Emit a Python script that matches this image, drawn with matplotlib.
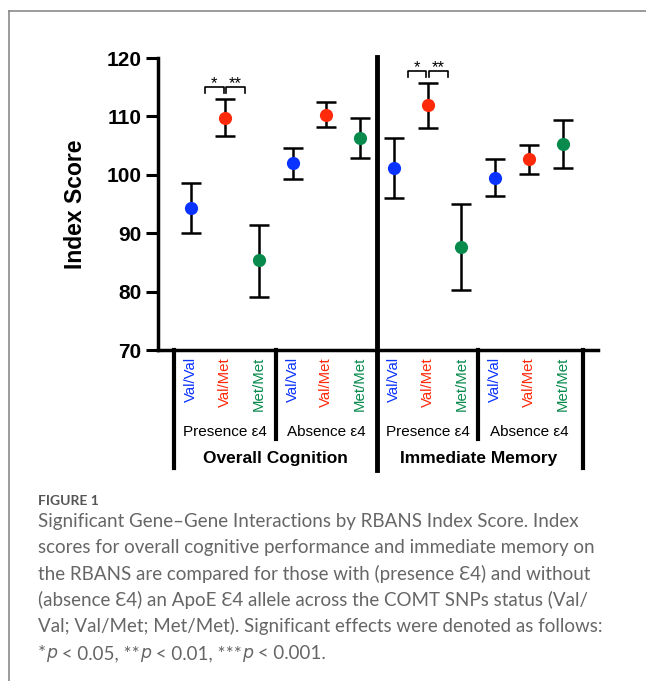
import matplotlib
matplotlib.use('Agg')
import matplotlib.pyplot as plt
from matplotlib.lines import Line2D
from matplotlib import transforms

# Datos (media y extremos de la barra de error)
genotipos = ['Val/Val', 'Val/Met', 'Met/Met']
colores = ['#0a33ff', '#ff2a0a', '#078a4c']
grupos = ['Presence ε4', 'Absence ε4', 'Presence ε4', 'Absence ε4']
dominios = ['Overall Cognition', 'Immediate Memory']

medias = [94.3, 109.7, 85.4, 102.0, 110.2, 106.3, 101.2, 112.0, 87.6, 99.5, 102.7, 105.3]
superior = [98.6, 113.0, 91.4, 104.6, 112.5, 109.7, 106.3, 115.7, 95.0, 102.7, 105.1, 109.4]
inferior = [90.0, 106.6, 79.1, 99.3, 108.2, 102.9, 96.0, 108.0, 80.3, 96.4, 100.1, 101.2]

# Comparaciones significativas (índice del punto Val/Met; izquierda y derecha)
puntos_sig = [1, 7]
etiquetas_sig = ['*', '**']

lineas_pie = [
    'Significant Gene\u2013Gene Interactions by RBANS Index Score. Index',
    'scores for overall cognitive performance and immediate memory on',
    'the RBANS are compared for those with (presence \u01904) and without',
    '(absence \u01904) an ApoE \u01904 allele across the COMT SNPs status (Val/',
    'Val; Val/Met; Met/Met). Significant effects were denoted as follows:',
]
ultima_linea = [('*', 'normal'), ('p', 'italic'), (' < 0.05, **', 'normal'), ('p', 'italic'),
                (' < 0.01, ***', 'normal'), ('p', 'italic'), (' < 0.001.', 'normal')]

fuente = ['Liberation Sans', 'DejaVu Sans']
plt.rcParams['font.family'] = fuente

fig = plt.figure(figsize=(6.46, 6.81), dpi=100)
W, H = 646, 681
ax = fig.add_axes([158 / W, 1 - 350 / H, 440 / W, 292 / H])

x = list(range(len(medias)))
for i in x:
    c = colores[i % 3]
    ax.errorbar(i, medias[i], yerr=[[medias[i] - inferior[i]], [superior[i] - medias[i]]],
                fmt='none', ecolor='black', elinewidth=1.8, capsize=7, capthick=1.8, zorder=2)
    ax.plot(i, medias[i], 'o', color=c, markersize=9.5, markeredgewidth=0, zorder=3)

ax.set_xlim(-0.98, 12.04)
ax.set_ylim(70, 120)
ax.set_yticks([70, 80, 90, 100, 110, 120])
ax.set_xticks([])
for s in ['top', 'right']:
    ax.spines[s].set_visible(False)
for s in ['left', 'bottom']:
    ax.spines[s].set_linewidth(2.5)
ax.tick_params(axis='y', length=9, width=2.2, pad=3, labelsize=15)
for t in ax.get_yticklabels():
    t.set_fontweight('bold')

fig.text(75 / W, 1 - 204 / H, 'Index Score', rotation=90, ha='center', va='center',
         fontsize=16.5, fontweight='bold')

# Corchetes de significancia
for p in puntos_sig:
    y = superior[p] + 2.0
    ax.plot([p - 0.58, p - 0.58, p - 0.04, p - 0.04], [y - 1, y, y, y - 1], color='black', lw=1.2, zorder=2)
    ax.plot([p + 0.04, p + 0.04, p + 0.6, p + 0.6], [y - 1, y, y, y - 1], color='black', lw=1.2, zorder=2)
    ax.text(p - 0.31, y - 0.2, etiquetas_sig[0], ha='center', va='baseline', fontsize=12)
    ax.text(p + 0.32, y - 0.2, etiquetas_sig[1], ha='center', va='baseline', fontsize=12)

# Etiquetas y divisiones bajo el eje
tr = transforms.blended_transform_factory(ax.transData, ax.transAxes)
for i in x:
    ax.text(i, -0.024, genotipos[i % 3], rotation=90, ha='center', va='top',
            color=colores[i % 3], fontsize=10.8, transform=tr, clip_on=False)
for k, g in enumerate(grupos):
    ax.text(1 + 3 * k, -0.281, g, ha='center', va='center', fontsize=11, transform=tr)
for k, d in enumerate(dominios):
    ax.text(2.5 + 6 * k, -0.37, d, ha='center', va='center', fontsize=12.5,
            fontweight='bold', transform=tr)

for xv in [-0.5, 11.6]:
    ax.plot([xv, xv], [0, -0.404], color='black', lw=3, transform=tr, clip_on=False)
for xv in [2.5, 8.5]:
    ax.plot([xv, xv], [0, -0.305], color='black', lw=3, transform=tr, clip_on=False)
ax.plot([5.5, 5.5], [1.003, -0.411], color='black', lw=3.5, transform=tr, clip_on=False)

# Marco de la tarjeta
borde = '#8a8a8a'
fig.add_artist(Line2D([9 / W, 1], [1 - 11 / H, 1 - 11 / H], color=borde, lw=1.2))
fig.add_artist(Line2D([9 / W, 9 / W], [0, 1 - 11 / H], color=borde, lw=1.2))

# Pie de figura
gris = '#666666'
pie = ['Lato', 'DejaVu Sans']
fig.text(38 / W, 1 - 501 / H, 'FIGURE 1', ha='left', va='center', fontsize=10,
         fontweight='bold', color='#555555', family=pie)
for k, linea in enumerate(lineas_pie):
    fig.text(38 / W, 1 - (522 + 26 * k) / H, linea, ha='left', va='center', fontsize=13.5,
             color=gris, family=pie)

# Última línea por trozos: la "p" en cursiva (Lato no trae cursiva, se usa DejaVu Sans)
anterior = None
for trozo, estilo in ultima_linea:
    fam = ['DejaVu Sans'] if estilo == 'italic' else pie
    tam = 12.5 if estilo == 'italic' else 13.5
    if anterior is None:
        anterior = fig.text(38 / W, 1 - 662 / H, trozo, ha='left', va='bottom', fontsize=tam,
                            color=gris, family=fam, style=estilo)
    else:
        anterior = ax.annotate(trozo, xy=(1, 0), xycoords=anterior, ha='left', va='bottom',
                               fontsize=tam, color=gris, family=fam, style=estilo,
                               annotation_clip=False)

fig.savefig('out.png', dpi=100)
